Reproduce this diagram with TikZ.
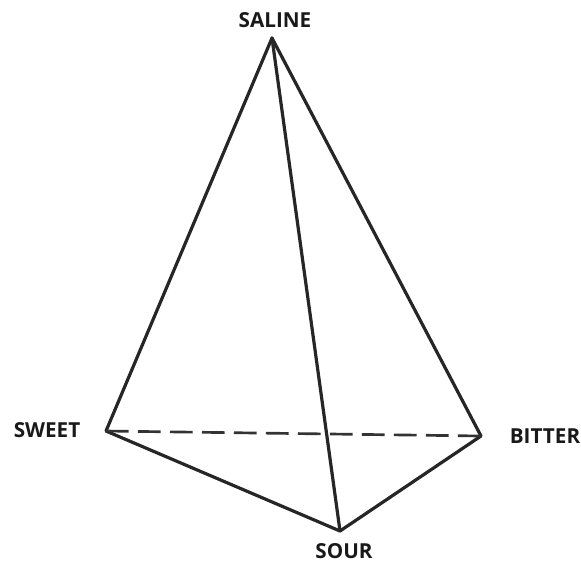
\documentclass[tikz,border=0pt]{standalone}
\usepackage{fontspec}
\setmainfont{Open Sans}
\tikzset{lbl/.style={font=\fontsize{15.5}{17}\selectfont\bfseries,text=black!90,inner sep=0pt},
edge/.style={draw=black!85,line width=2.4pt,line cap=round,line join=round},
hid/.style={draw=black!80,line width=2pt,dash pattern=on 17pt off 7pt}}
\begin{document}
\begin{tikzpicture}[x=0.75pt,y=-0.75pt]
\useasboundingbox (0,0) rectangle (581,562);
\coordinate (a) at (272,38);
\coordinate (b) at (106,431);
\coordinate (c) at (481,436);
\coordinate (d) at (340,531);
\node[lbl] (ls) at (275,20) {SALINE};
\node[lbl] (lw) at (47,430) {SWEET};
\node[lbl] (lb) at (545,436) {BITTER};
\node[lbl] (lo) at (344,551) {SOUR};
\draw[edge] (b) -- (a) -- (c) -- (d) -- (b);
\draw[edge] (a) -- (d);
\draw[hid] (b) -- (c);
\end{tikzpicture}
\end{document}
